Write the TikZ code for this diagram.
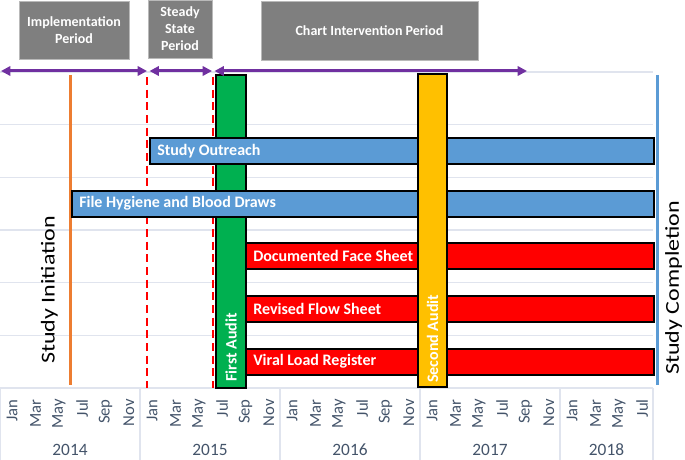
\documentclass[tikz,border=0pt]{standalone}
\usepackage{fontspec}
\setmainfont{Carlito}
\usetikzlibrary{arrows.meta}

\definecolor{periodgray}{HTML}{7F7F7F}
\definecolor{gridline}{HTML}{E0E4EE}
\definecolor{axistext}{HTML}{44546A}
\definecolor{arrowpurple}{HTML}{7030A0}
\definecolor{initorange}{HTML}{ED7D31}
\definecolor{barblue}{HTML}{5B9BD5}
\definecolor{barred}{HTML}{FF0000}
\definecolor{auditgreen}{HTML}{00B050}
\definecolor{audityellow}{HTML}{FFC000}

\begin{document}
\begin{tikzpicture}[
    x=0.75pt, y=-0.75pt,
    font=\fontsize{12}{14}\selectfont,
    >={Triangle[length=7pt, width=7pt]},
    grid/.style={draw=gridline, line width=0.8pt},
    period/.style={rectangle, fill=periodgray, draw=gray!55, line width=0.6pt, text=white, font=\fontsize{10.5}{12.75}\selectfont\bfseries, align=center, inner sep=0pt},
    span/.style={<->, draw=arrowpurple, line width=2.25pt},
    month/.style={rotate=90, anchor=east, text=axistext, font=\fontsize{12.5}{14}\selectfont, inner sep=0pt},
    yearlbl/.style={text=axistext, font=\fontsize{13}{15}\selectfont, inner sep=0pt},
    bar/.style={draw=black, line width=1.6pt},
    barlabel/.style={anchor=west, text=white, font=\fontsize{12}{14}\selectfont\bfseries, inner sep=0pt},
    milestone/.style={rotate=90, anchor=west, font=\fontsize{18}{20}\selectfont, inner sep=0pt}
]
\useasboundingbox (0,0) rectangle (685,460);

% grid and time axis
\foreach \k in {0,...,6}
  \draw[grid] (0,{72+52.67*\k}) -- (653,{72+52.67*\k});
\foreach \x in {0.5,140,280,420,560,653}
  \draw[grid] (\x,388) -- (\x,460);
\foreach \yr/\x/\c/\mlist in {2014/0/70/{Jan,Mar,May,Jul,Sep,Nov},
    2015/140/210/{Jan,Mar,May,Jul,Sep,Nov}, 2016/280/350/{Jan,Mar,May,Jul,Sep,Nov},
    2017/420/490/{Jan,Mar,May,Jul,Sep,Nov}, 2018/560/606.5/{Jan,Mar,May,Jul}} {
  \foreach \m [count=\k from 0] in \mlist
    \node[month] (m\yr-\k) at ({\x+12.2+23.33*\k},399) {\m};
  \node[yearlbl] (y\yr) at (\c,450) {\yr};
}

% milestone lines
\draw[initorange, line width=2.25pt] (70,75) -- (70,385);
\draw[barred, line width=1.5pt, dash pattern=on 6pt off 3.5pt] (147,77) -- (147,388);
\draw[barred, line width=1.5pt, dash pattern=on 6pt off 3.5pt] (212.5,77) -- (212.5,388);

% first audit sits under the blue bars
\draw[bar, fill=auditgreen] (216,75) rectangle (246,388);

\foreach \id/\x/\y/\col/\txt in {outreach/150/151/barblue/Study Outreach,
    hygiene/72/203.7/barblue/File Hygiene and Blood Draws,
    face/246/256.3/barred/Documented Face Sheet,
    flow/246/309/barred/Revised Flow Sheet,
    viral/246/361.7/barred/Viral Load Register} {
  \draw[bar, fill=\col] (\x,\y-13) rectangle (654,\y+13);
  \node[barlabel] (\id) at (\x+7,\y) {\txt};
}

\draw[bar, fill=audityellow] (418,74) rectangle (447,387);
\node[barlabel, rotate=90] (audit1) at (231,382) {First Audit};
\node[barlabel, rotate=90] (audit2) at (432.5,383) {Second Audit};

\draw[barblue, line width=2.25pt] (657,75) -- (657,385);
\node[milestone] (init) at (49.5,364) {\scalebox{1}[0.82]{Study Initiation}};
\node[milestone] (done) at (673.5,375) {\scalebox{1}[0.82]{Study Completion}};

% periods
\coordinate (p0) at (1,71);
\coordinate (p1) at (147,71);
\coordinate (p2) at (149.5,71);
\coordinate (p3) at (212,71);
\coordinate (p4) at (214.5,71);
\coordinate (p5) at (527,71);
\draw[span] (p0) -- (p1);
\draw[span] (p2) -- (p3);
\draw[span] (p4) -- (p5);

\node[period, minimum width=82.5pt, minimum height=43.5pt] (impl) at (74,30) {Implementation\\Period};
\node[period, minimum width=48pt, minimum height=43.5pt] (steady) at (180,29) {Steady\\State\\Period};
\node[period, minimum width=162.75pt, minimum height=44.25pt] (chart) at (369.5,30.5) {Chart Intervention Period};
\end{tikzpicture}
\end{document}
